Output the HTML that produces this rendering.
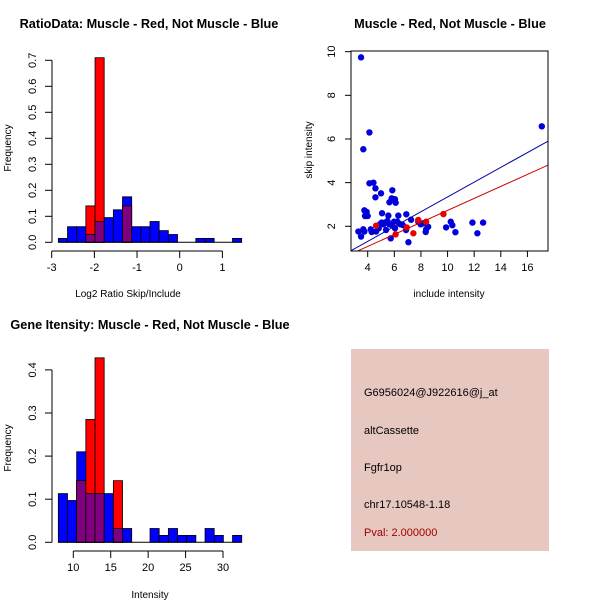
<!DOCTYPE html>
<html><head><meta charset="utf-8"><style>
body{margin:0;background:#fff}
svg{display:block;font-family:"Liberation Sans",Arial,sans-serif}
</style></head><body>
<svg id="s" width="600" height="600">
<rect width="600" height="600" fill="#fff"/>
<text x="149" y="28" font-size="12.7" font-weight="bold" text-anchor="middle">RatioData: Muscle - Red, Not Muscle - Blue</text>
<text x="450" y="28" font-size="12.7" font-weight="bold" text-anchor="middle">Muscle - Red, Not Muscle - Blue</text>
<text x="150" y="329" font-size="12.7" font-weight="bold" text-anchor="middle">Gene Itensity: Muscle - Red, Not Muscle - Blue</text>
<text x="128" y="297" font-size="10" text-anchor="middle">Log2 Ratio Skip/Include</text>
<text x="11" y="148" font-size="10" text-anchor="middle" transform="rotate(-90 11 148)">Frequency</text>
<text x="449" y="297" font-size="10" text-anchor="middle">include intensity</text>
<text x="312" y="150" font-size="10" text-anchor="middle" transform="rotate(-90 312 150)">skip intensity</text>
<text x="150" y="598" font-size="10" text-anchor="middle">Intensity</text>
<text x="11" y="448" font-size="10" text-anchor="middle" transform="rotate(-90 11 448)">Frequency</text>
<g>
<rect x="351" y="349" width="198" height="202" fill="#e6c8c0"/>
<text x="364" y="396" font-size="11">G6956024@J922616@j_at</text>
<text x="364" y="434" font-size="11">altCassette</text>
<text x="364" y="471" font-size="11">Fgfr1op</text>
<text x="364" y="508" font-size="11">chr17.10548-1.18</text>
<text x="364" y="536" font-size="11" fill="#a00000">Pval: 2.000000</text>
</g>
<g id="g1"></g><g id="g2"></g><g id="g3"></g>
</svg>
<script>
const ratioBlue=[0.015,0.06,0.06,0.03,0.08,0.095,0.125,0.175,0.06,0.06,0.08,0.045,0.03,0,0,0.015,0.015,0,0,0.015];
const ratioRed=[0,0,0,0.14,0.71,0,0,0.14,0,0,0,0,0,0,0,0,0,0,0,0];
const ratioXTicks=[-3,-2,-1,0,1];
const ratioYTicks=[0,0.1,0.2,0.3,0.4,0.5,0.6,0.7];
const intBlue=[0.113,0.097,0.21,0.113,0.113,0.113,0.032,0.032,0,0,0.032,0.016,0.032,0.016,0.016,0,0.032,0.016,0,0.016];
const intRed=[0,0,0.143,0.285,0.428,0,0.143,0,0,0,0,0,0,0,0,0,0,0,0,0];
const intXTicks=[10,15,20,25,30];
const intYTicks=[0,0.1,0.2,0.3,0.4];
const blueX=[3.5,4.13,3.67,17.08,4.13,4.43,4.58,4.58,5.0,5.85,5.63,5.8,6.05,6.1,3.75,3.92,3.8,4.0,5.08,5.55,6.3,6.9,7.26,3.3,3.5,3.67,3.75,4.23,4.3,4.63,4.83,4.93,5.05,5.18,5.3,5.38,5.48,5.63,5.8,5.98,5.73,6.05,6.23,6.43,6.63,6.88,7.06,7.8,7.98,8.18,8.36,8.39,8.54,9.89,10.24,10.36,10.59,11.87,12.24,12.67];
const blueY=[9.74,6.3,5.53,6.58,3.97,4.0,3.74,3.33,3.51,3.65,3.1,3.28,3.24,3.08,2.73,2.66,2.47,2.47,2.6,2.49,2.49,2.55,2.3,1.76,1.53,1.86,1.76,1.86,1.74,1.76,1.91,2.1,2.17,2.09,2.17,1.83,2.24,2.09,2.06,2.21,1.45,1.91,2.21,2.1,2.06,1.83,1.27,2.21,2.09,2.14,1.74,1.86,1.98,1.95,2.21,2.05,1.73,2.17,1.68,2.17];
const redX=[4.63,6.1,6.93,7.43,7.8,8.39,9.69];
const redY=[2.03,1.63,1.95,1.68,2.29,2.21,2.56];
const fitBlue=[0.339,-0.047];
const fitRed=[0.275,-0.023];
const scXTicks=[4,6,8,10,12,14,16];
const scYTicks=[2,4,6,8,10];
const NS='http://www.w3.org/2000/svg';
function mk(p,t,a){const e=document.createElementNS(NS,t);for(const k in a)e.setAttribute(k,a[k]);p.appendChild(e);return e;}
function hist(g,blue,red,start,w,sx,sy,xt,yt,yAx,xAy,nm){
  for(let i=0;i<blue.length;i++){
    const x0=sx(start+i*w),x1=sx(start+(i+1)*w),b=blue[i],r=red[i],m=Math.min(b,r);
    if(b>0){const e=mk(g,'rect',{x:x0,y:sy(b),width:x1-x0,height:sy(0)-sy(b),fill:'#0000ff',stroke:'#000','stroke-width':0.8});
      
      }
    if(r>0){const e=mk(g,'rect',{x:x0,y:sy(r),width:x1-x0,height:sy(0)-sy(r),fill:'#ff0000',stroke:'#000','stroke-width':0.8});
      
      }
    if(m>0){const e=mk(g,'rect',{x:x0,y:sy(m),width:x1-x0,height:sy(0)-sy(m),fill:'#800080',stroke:'#000','stroke-width':0.8});
      
      }
  }
  mk(g,'line',{x1:sx(start),x2:sx(start+blue.length*w),y1:sy(0),y2:sy(0),stroke:'#000'});
  axes(g,sx,sy,xt,yt,yAx,xAy,nm,v=>v.toFixed(1));
}
function axes(g,sx,sy,xt,yt,yAx,xAy,nm,fy){
  mk(g,'line',{x1:sx(xt[0]),x2:sx(xt[xt.length-1]),y1:xAy,y2:xAy,stroke:'#000'});
  xt.forEach(v=>{mk(g,'line',{x1:sx(v),x2:sx(v),y1:xAy,y2:xAy+7,stroke:'#000'});
    const t=mk(g,'text',{x:sx(v),y:xAy+20,'font-size':11,'text-anchor':'middle'});t.textContent=v;
    
    });
  mk(g,'line',{x1:yAx,x2:yAx,y1:sy(yt[0]),y2:sy(yt[yt.length-1]),stroke:'#000'});
  yt.forEach(v=>{mk(g,'line',{x1:yAx,x2:yAx-7,y1:sy(v),y2:sy(v),stroke:'#000'});
    const t=mk(g,'text',{x:yAx-16,y:sy(v),'font-size':11,'text-anchor':'middle',transform:`rotate(-90 ${yAx-16} ${sy(v)})`});t.textContent=fy(v);
    
    });
}
const g1=document.getElementById('g1');


hist(g1,ratioBlue,ratioRed,-2.844,0.2148,v=>51.7+(v+3)*42.67,v=>242.3-v*260,ratioXTicks,ratioYTicks,52,251,'ratio',null);
const g3=document.getElementById('g3');


hist(g3,intBlue,intRed,8,1.225,v=>73.3+(v-10)*7.485,v=>542.3-v*431,intXTicks,intYTicks,52,551,'intensity',null);
const g2=document.getElementById('g2');


const sx=v=>367.7+(v-4)*13.31, sy=v=>226.3-(v-2)*21.83;
const x0=2.74,x1=17.5,y0=0.88,y1=10.0;
const cp=mk(g2,'clipPath',{id:'cp'});mk(cp,'rect',{x:351,y:51,width:197,height:200});
const lg=mk(g2,'g',{'clip-path':'url(#cp)'});
blueX.forEach((x,i)=>{const c=mk(lg,'circle',{cx:sx(x),cy:sy(blueY[i]),r:3.2,fill:'#0000dd'});
  
  });
redX.forEach((x,i)=>{const c=mk(lg,'circle',{cx:sx(x),cy:sy(redY[i]),r:3.2,fill:'#ee0000'});
  
  });
[[fitBlue,'#0000aa','blue-fit-line'],[fitRed,'#cc0000','red-fit-line']].forEach(([f,c,n])=>{
  const l=mk(lg,'line',{x1:sx(x0-1),y1:sy(f[0]*(x0-1)+f[1]),x2:sx(x1+1),y2:sy(f[0]*(x1+1)+f[1]),stroke:c,'stroke-width':1});
  
  });
mk(g2,'rect',{x:351,y:51,width:197,height:200,fill:'none',stroke:'#000'});
scXTicks.forEach(v=>{mk(g2,'line',{x1:sx(v),x2:sx(v),y1:251,y2:257,stroke:'#000'});
  const t=mk(g2,'text',{x:sx(v),y:271,'font-size':11,'text-anchor':'middle'});t.textContent=v;
  
  });
scYTicks.forEach(v=>{mk(g2,'line',{x1:351,x2:345,y1:sy(v),y2:sy(v),stroke:'#000'});
  const t=mk(g2,'text',{x:335,y:sy(v),'font-size':11,'text-anchor':'middle',transform:`rotate(-90 335 ${sy(v)})`});t.textContent=v;
  
  });
</script>
</body></html>
